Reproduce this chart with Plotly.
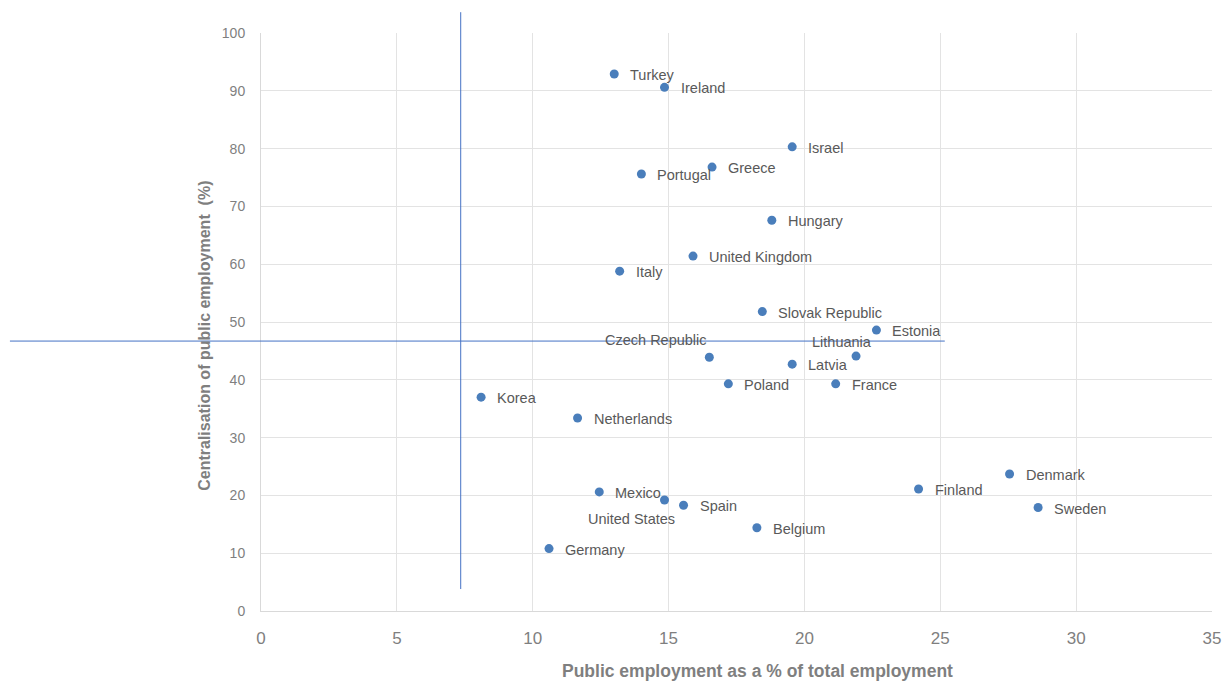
import plotly.graph_objects as go

# Public employment share vs. centralisation, by country
countries = [
    "Turkey", "Ireland", "Israel", "Greece", "Portugal", "Hungary",
    "United Kingdom", "Italy", "Slovak Republic", "Estonia", "Czech Republic",
    "Lithuania", "Latvia", "Poland", "France", "Korea", "Netherlands",
    "Denmark", "Finland", "Sweden", "Mexico", "United States", "Spain",
    "Belgium", "Germany",
]
public_emp_share = [
    13.0, 14.85, 19.55, 16.6, 14.0, 18.8,
    15.9, 13.2, 18.45, 22.65, 16.5,
    21.9, 19.55, 17.2, 21.15, 8.1, 11.65,
    27.55, 24.2, 28.6, 12.45, 14.85, 15.55,
    18.25, 10.6,
]
centralisation = [
    92.9, 90.6, 80.3, 76.8, 75.6, 67.6,
    61.4, 58.8, 51.8, 48.6, 43.9,
    44.1, 42.7, 39.3, 39.3, 37.0, 33.4,
    23.7, 21.1, 17.9, 20.6, 19.2, 18.3,
    14.4, 10.8,
]

# Reference cross-hair values
ref_share = 7.35
ref_centralisation = 46.7

x_ticks = [0, 5, 10, 15, 20, 25, 30, 35]
y_ticks = [0, 10, 20, 30, 40, 50, 60, 70, 80, 90, 100]

x_title = "Public employment as a % of total employment"
y_title = "Centralisation of public employment  (%)"

BASE_FONT = "Arial, Liberation Sans, sans-serif"
NARROW_FONT = "Liberation Sans Narrow, Arial Narrow, Arial, sans-serif"

# Label placement: default to the right of the marker; a few are moved to avoid overlap
label_shift = {
    "Czech Republic": (-53, 18, "center"),
    "Lithuania": (-14, 15, "center"),
    "United States": (-33, -18, "center"),
}

fig = go.Figure()
fig.add_trace(go.Scatter(
    x=public_emp_share, y=centralisation, mode="markers",
    marker=dict(color="#4a7ebb", size=9),
    hoverinfo="text", text=countries, showlegend=False,
))

for name, xv, yv in zip(countries, public_emp_share, centralisation):
    dx, dy, anchor = label_shift.get(name, (14, 0, "left"))
    fig.add_annotation(
        x=xv, y=yv, text=name, showarrow=False,
        xanchor=anchor, yanchor="middle", xshift=dx, yshift=dy - 1,
        font=dict(family=BASE_FONT, size=14.5, color="#595959"),
    )

# Axis titles
fig.add_annotation(
    xref="paper", yref="paper", x=0.522, y=-0.104, text=f"<b>{x_title}</b>",
    showarrow=False, xanchor="center", yanchor="middle",
    font=dict(family=BASE_FONT, size=17.5, color="#7f7f7f"),
)
fig.add_annotation(
    xref="paper", yref="paper", x=-0.059, y=0.476, text=f"<b>{y_title}</b>",
    showarrow=False, xanchor="center", yanchor="middle", textangle=-90,
    font=dict(family=BASE_FONT, size=16, color="#7f7f7f"),
)

line_color = "#4472c4"
fig.add_shape(type="line", xref="x", yref="paper",
              x0=ref_share, x1=ref_share, y0=1.036, y1=0.038,
              line=dict(color=line_color, width=1))
fig.add_shape(type="line", xref="paper", yref="y",
              x0=-0.264, x1=0.719, y0=ref_centralisation, y1=ref_centralisation,
              line=dict(color=line_color, width=1))

fig.update_layout(
    width=1227, height=682,
    margin=dict(l=261, r=15, t=33, b=71),
    paper_bgcolor="white", plot_bgcolor="white",
    font=dict(family=BASE_FONT, color="#7f7f7f"),
    xaxis=dict(
        range=[0, 35], tickvals=x_ticks, ticktext=[str(t) for t in x_ticks],
        showgrid=True, gridcolor="#e3e3e3", gridwidth=1,
        showline=True, linecolor="#d9d9d9", linewidth=1, mirror=False,
        zeroline=False, ticks="", automargin=False, ticklabelstandoff=12,
        tickfont=dict(family=NARROW_FONT, size=17, color="#7f7f7f"),
    ),
    yaxis=dict(
        range=[0, 100], tickvals=y_ticks, ticktext=[str(t) for t in y_ticks],
        showgrid=True, gridcolor="#e3e3e3", gridwidth=1,
        showline=True, linecolor="#d9d9d9", linewidth=1,
        zeroline=False, ticks="", automargin=False, ticklabelstandoff=12,
        tickfont=dict(size=14, color="#7f7f7f"),
    ),
)

fig.write_html("out.html")
